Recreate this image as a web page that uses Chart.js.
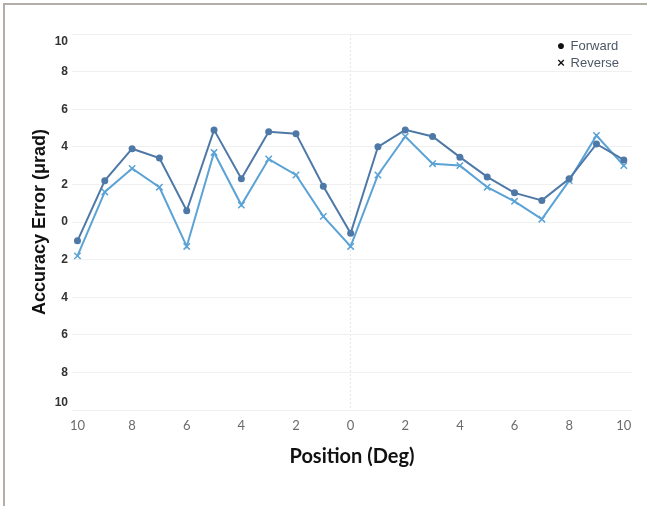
<!DOCTYPE html>
<html>
<head>
<meta charset="utf-8">
<script src="https://cdn.jsdelivr.net/npm/chart.js@4/dist/chart.umd.min.js"></script>
<style>
  html, body { margin: 0; padding: 0; background: #fff; }
  #wrap { position: relative; width: 647px; height: 506px; }
  #frame { position: absolute; left: 3px; top: 3px; right: 0; bottom: 0;
           border-top: 2px solid #b3aea8; border-left: 2px solid #b3aea8; pointer-events: none; }
  #legend { position: absolute; left: 555px; top: 37px; font: 13px "Liberation Sans", Arial, sans-serif; color: #4d5866; line-height: 17px; }
  #legend span.m { display: inline-block; width: 12px; text-align: center; color: #111; }
</style>
</head>
<body>
<div id="wrap">
  <canvas id="chart" width="647" height="506"></canvas>
  <div id="frame"></div>
  <div id="legend">
    <div><span class="m" style="font-size:14px">&#9679;</span> Forward</div>
    <div><span class="m" style="font-weight:bold">&#215;</span> Reverse</div>
  </div>
</div>
<script>
// positions in degrees
const positions = [-10, -9, -8, -7, -6, -5, -4, -3, -2, -1, 0, 1, 2, 3, 4, 5, 6, 7, 8, 9, 10];
// accuracy error (µrad)
const forward = [-1.0, 2.2, 3.9, 3.4, 0.6, 4.9, 2.3, 4.8, 4.7, 1.9, -0.6, 4.0, 4.9, 4.55, 3.45, 2.4, 1.55, 1.15, 2.3, 4.15, 3.3];
const reverse = [-1.8, 1.6, 2.85, 1.85, -1.3, 3.7, 0.9, 3.35, 2.5, 0.3, -1.3, 2.5, 4.55, 3.1, 3.0, 1.85, 1.1, 0.15, 2.2, 4.6, 3.0];
const xTicks = [-10, -8, -6, -4, -2, 0, 2, 4, 6, 8, 10];

function toPoints(vals) {
    return positions.map((p, i) => ({ x: p, y: vals[i] }));
}

const ctx = document.getElementById('chart').getContext('2d');
const chart = new Chart(ctx, {
    type: 'line',
    data: {
        datasets: [
            {
                label: 'Forward',
                data: toPoints(forward),
                borderColor: '#4e79a7',
                backgroundColor: '#4e79a7',
                borderWidth: 2,
                pointStyle: 'circle',
                pointRadius: 3.5,
                pointBorderWidth: 0,
                tension: 0
            },
            {
                label: 'Reverse',
                data: toPoints(reverse),
                borderColor: '#5ba3d6',
                backgroundColor: '#5ba3d6',
                borderWidth: 2,
                pointStyle: 'crossRot',
                pointRadius: 4.5,
                pointBorderWidth: 1.5,
                tension: 0
            }
        ]
    },
    options: {
        responsive: false,
        animation: false,
        layout: { padding: { left: 25, right: 15, top: 34, bottom: 33 } },
        plugins: {
            legend: { display: false },
            tooltip: { enabled: false }
        },
        scales: {
            x: {
                type: 'linear',
                min: -10.2,
                max: 10.3,
                afterBuildTicks: function(scale) {
                    scale.ticks = xTicks.map(v => ({ value: v }));
                },
                afterFit: function(scale) { scale.height = 63; },
                ticks: {
                    color: '#6b6b6b',
                    font: { family: 'Lato', size: 13 },
                    padding: 8,
                    callback: function(value) { return Math.abs(value); }
                },
                grid: {
                    drawTicks: false,
                    color: function(c) { return c.tick && c.tick.value === 0 ? '#e6e6e6' : 'rgba(0,0,0,0)'; },
                    lineWidth: 1
                },
                border: { display: false, dash: [2, 2] },
                title: {
                    display: true,
                    text: 'Position (Deg)',
                    color: '#111',
                    font: { family: 'Lato', size: 20, weight: 'bold' },
                    padding: { top: 2 }
                }
            },
            y: {
                min: -10,
                max: 10,
                afterFit: function(scale) { scale.width = 47; },
                ticks: {
                    stepSize: 2,
                    color: '#333',
                    font: { family: 'Liberation Sans', size: 12, weight: 'bold' },
                    padding: 4,
                    callback: function(value) {
                        // end labels sit inside the range, as in the original
                        if (value === 10) return ['', '10'];
                        if (value === -10) return ['10', ''];
                        return Math.abs(value);
                    }
                },
                grid: {
                    drawTicks: false,
                    color: '#f0f0f0',
                    lineWidth: 1
                },
                border: { display: false },
                title: {
                    display: true,
                    text: 'Accuracy Error (\u03bcrad)',
                    color: '#111',
                    font: { family: 'Liberation Sans', size: 18, weight: 'bold' },
                    padding: { bottom: 2 }
                }
            }
        }
    }
});
</script>
</body>
</html>
